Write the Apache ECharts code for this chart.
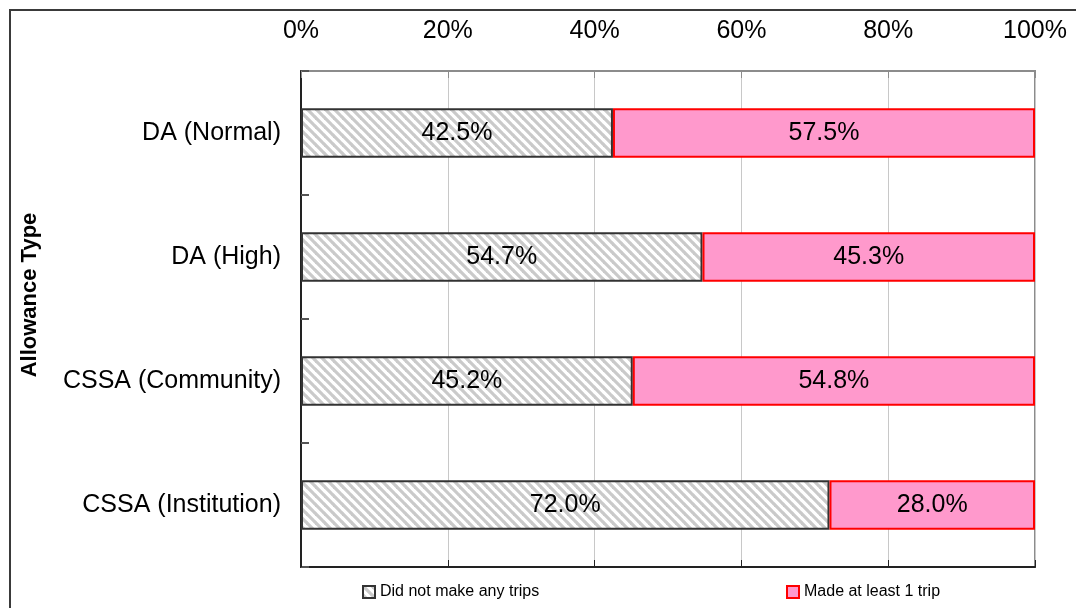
<!DOCTYPE html>
<html>
<head>
<meta charset="utf-8">
<script src="https://cdn.jsdelivr.net/npm/echarts@6/dist/echarts.min.js"></script>
<style>
  html, body { margin: 0; padding: 0; background: #fff; }
  #chart { width: 1076px; height: 608px; }
</style>
</head>
<body>
<div id="chart"></div>
<script>
// Allowance types, top to bottom
const categories = ['DA (Normal)', 'DA (High)', 'CSSA (Community)', 'CSSA (Institution)'];
// Share of recipients (%)
const noTrips = [42.5, 54.7, 45.2, 72.0];
const atLeastOne = [57.5, 45.3, 54.8, 28.0];
const seriesNames = ['Did not make any trips', 'Made at least 1 trip'];
const xTicks = [0, 20, 40, 60, 80, 100];

// Diagonal hatch tile for the "no trips" bars
function hatchTile() {
  const c = document.createElement('canvas');
  const s = 9;
  c.width = s; c.height = s;
  const g = c.getContext('2d');
  g.fillStyle = '#ffffff';
  g.fillRect(0, 0, s, s);
  g.strokeStyle = '#cacaca';
  g.lineWidth = 3.2;
  for (let k = -1; k <= 1; k++) {
    g.beginPath();
    g.moveTo(k * s - 1, -1);
    g.lineTo(k * s + s + 1, s + 1);
    g.stroke();
  }
  return c;
}
const hatch = { image: hatchTile(), repeat: 'repeat' };

const font = 'Liberation Sans, Arial, sans-serif';
const chart = echarts.init(document.getElementById('chart'));

const legendText = { fontSize: 16, color: '#000', fontFamily: font };

chart.setOption({
  animation: false,
  textStyle: { fontFamily: font },
  grid: {
    left: 301, right: 41, top: 71, bottom: 41,
    show: true, borderColor: '#8c8c8c', borderWidth: 2, backgroundColor: 'transparent'
  },
  legend: [
    {
      data: [seriesNames[0]], left: 362, top: 584, padding: 0, icon: 'rect',
      itemWidth: 12, itemHeight: 12, itemGap: 0, textStyle: legendText
    },
    {
      data: [seriesNames[1]], left: 786, top: 584, padding: 0, icon: 'rect',
      itemWidth: 12, itemHeight: 12, itemGap: 0, textStyle: legendText
    }
  ],
  xAxis: [
    {
      type: 'value', position: 'top', min: 0, max: 100, interval: 20,
      axisLabel: {
        formatter: v => xTicks.includes(v) ? v + '%' : '',
        fontSize: 25, color: '#000', margin: 27
      },
      axisLine: { show: false },
      axisTick: { show: true, inside: true, length: 7, lineStyle: { color: '#8c8c8c', width: 1 } },
      splitLine: { show: true, lineStyle: { color: '#c8c8c8', width: 1 } }
    },
    {
      type: 'value', position: 'bottom', min: 0, max: 100, interval: 20,
      axisLabel: { show: false },
      axisLine: { show: true, lineStyle: { color: '#222', width: 2 } },
      axisTick: { show: true, inside: true, length: 7, lineStyle: { color: '#222', width: 1 } },
      splitLine: { show: false }
    }
  ],
  yAxis: {
    type: 'category', data: categories, inverse: true,
    axisLine: { show: true, lineStyle: { color: '#222', width: 2 } },
    axisTick: { show: true, inside: true, length: 8, lineStyle: { color: '#555', width: 2 } },
    axisLabel: { fontSize: 25, color: '#000', margin: 20 }
  },
  graphic: [
    {
      type: 'rect', shape: { x: 10, y: 10, width: 1100, height: 640 },
      style: { fill: 'none', stroke: '#3a3a3a', lineWidth: 2 }, silent: true
    },
    {
      type: 'text', x: 30, y: 295, rotation: Math.PI / 2,
      style: {
        text: 'Allowance Type', fontSize: 22, fontWeight: 'bold', fill: '#000',
        fontFamily: font, align: 'center', verticalAlign: 'middle'
      }
    }
  ],
  series: [
    {
      name: seriesNames[0], type: 'bar', stack: 'total', data: noTrips,
      barWidth: '40%',
      itemStyle: { color: hatch, borderColor: '#333', borderWidth: 2 },
      label: {
        show: true, position: 'inside', formatter: p => p.value.toFixed(1) + '%',
        fontSize: 25, color: '#000', fontFamily: font
      }
    },
    {
      name: seriesNames[1], type: 'bar', stack: 'total', data: atLeastOne,
      barWidth: '40%',
      itemStyle: { color: '#ff99cc', borderColor: '#ff0000', borderWidth: 2 },
      label: {
        show: true, position: 'inside', formatter: p => p.value.toFixed(1) + '%',
        fontSize: 25, color: '#000', fontFamily: font
      }
    }
  ]
});
</script>
</body>
</html>
